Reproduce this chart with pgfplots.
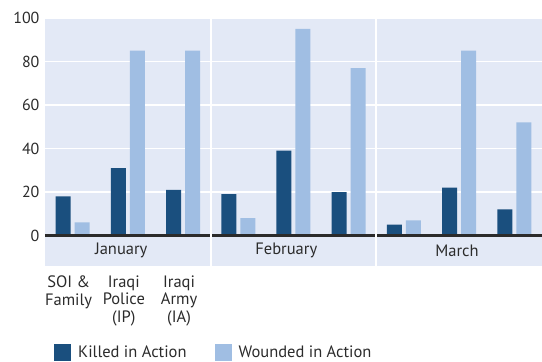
\documentclass[border=0pt]{standalone}
\usepackage{pgfplots}
\pgfplotsset{compat=1.18}
\usepackage{fontspec}
\setmainfont{PT Sans}
\definecolor{bg}{HTML}{E3E9F6}
\definecolor{killed}{HTML}{1A4F7E}
\definecolor{wounded}{HTML}{A0BEE3}
\definecolor{txt}{HTML}{2B2B2B}
\begin{document}
\begin{tikzpicture}[x=1pt,y=1pt]
\path[use as bounding box] (0,0) rectangle (542,-362);
\begin{axis}[
  at={(45pt,-18pt)}, anchor=north west,
  scale only axis, width=497pt, height=248pt,
  xmin=-0.5, xmax=8.5, ymin=-14, ymax=100,
  axis background/.style={fill=bg},
  axis line style={draw=none},
  tick style={draw=none},
  ytick={0,20,40,60,80,100},
  ymajorgrids, grid style={white, line width=1.5pt},
  xtick={0,1,2},
  xticklabels={SOI \&\\Family, Iraqi\\Police\\(IP), Iraqi\\Army\\(IA)},
  x tick label style={align=center, font=\fontsize{16.5}{17.5}\selectfont, text=txt, xshift=-4pt, yshift=-2pt},
  y tick label style={font=\fontsize{16}{18}\selectfont, text=txt, xshift=-2pt},
  /pgf/number format/assume math mode=true,
  ybar=4pt, bar width=15pt,
  legend columns=2,
  legend style={draw=none, fill=none, at={(0,0)}, anchor=north west, xshift=6pt, yshift=-76pt,
    font=\fontsize{16.5}{18}\selectfont, text=txt,
    /tikz/every even column/.append style={column sep=26pt}},
  legend image code/.code={\fill[#1] (0pt,-8.5pt) rectangle (17pt,8.5pt); \path (22pt,0pt);},
  clip=false,
]
\addplot[fill=killed, draw=none] coordinates {(0,18) (1,31) (2,21) (3,19) (4,39) (5,20) (6,5) (7,22) (8,12)};
\addplot[fill=wounded, draw=none] coordinates {(0,6) (1,85) (2,85) (3,8) (4,95) (5,77) (6,7) (7,85) (8,52)};
\legend{Killed in Action, Wounded in Action}
\draw[line width=3pt, color=txt] (axis cs:-0.5,0) -- (axis cs:8.5,0);
\draw[white, line width=2pt] (axis cs:2.5,-14) -- (axis cs:2.5,100);
\draw[white, line width=2pt] (axis cs:5.5,-14) -- (axis cs:5.5,100);
\node[font=\fontsize{16.5}{18}\selectfont, text=txt] at (axis cs:0.88,-6.9) {January};
\node[font=\fontsize{16.5}{18}\selectfont, text=txt] at (axis cs:3.87,-6.9) {February};
\node[font=\fontsize{16.5}{18}\selectfont, text=txt] at (axis cs:6.96,-6.9) {March};
\end{axis}
\end{tikzpicture}
\end{document}
